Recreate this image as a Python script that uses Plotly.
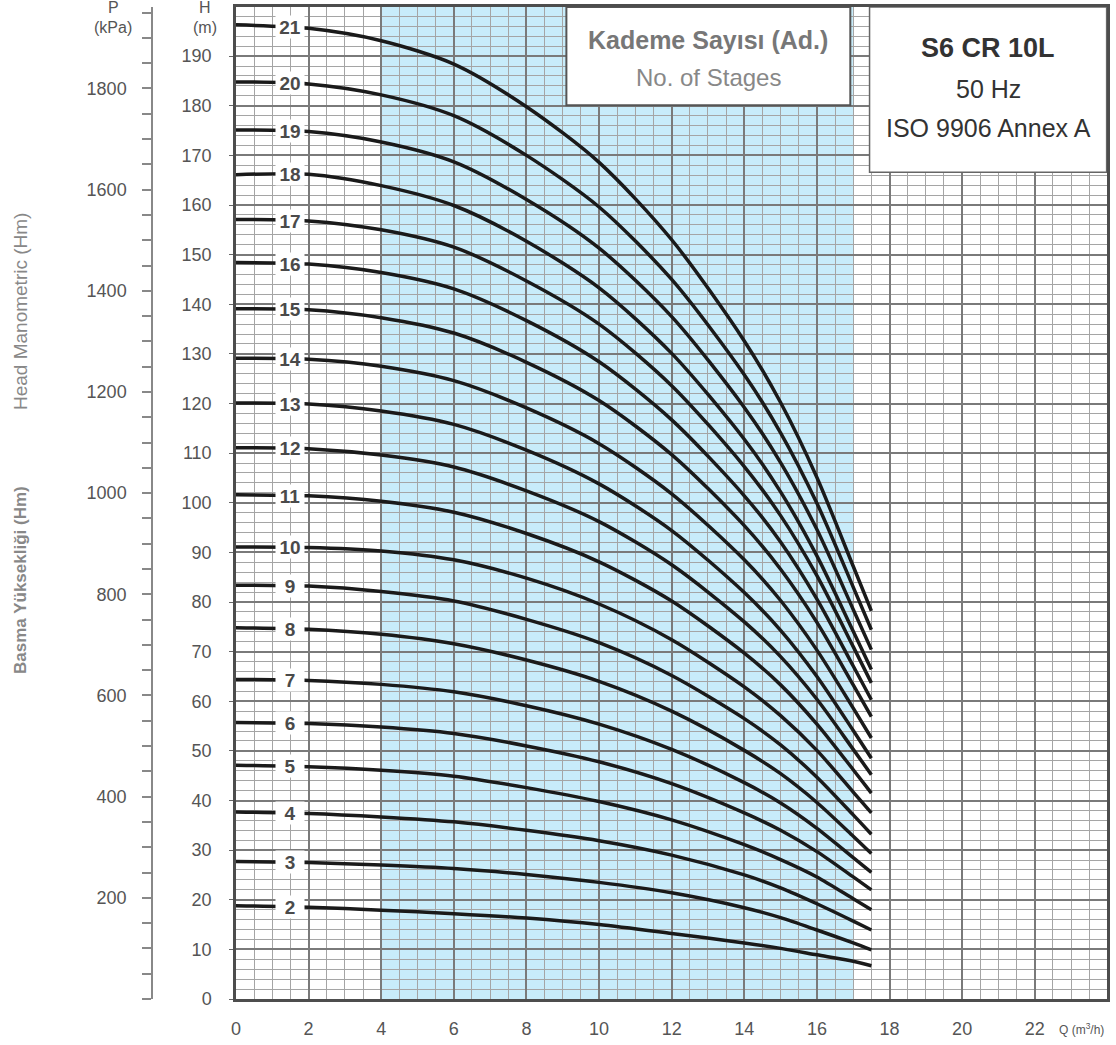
import numpy as np
import plotly.graph_objects as go

# ---------------- data ----------------
Q = [0, 2, 4, 6, 8, 10, 12, 14, 15, 16, 17, 17.5]

H2 = [18.8, 18.5, 17.9, 17.2, 16.3, 15.0, 13.2, 11.3, 10.2, 8.9, 7.6, 6.7]
H3 = [27.7, 27.5, 27.0, 26.3, 25.1, 23.5, 21.4, 18.4, 16.4, 13.9, 11.3, 9.9]
H4 = [37.7, 37.4, 36.7, 35.7, 34.0, 31.9, 29.0, 25.0, 22.4, 19.2, 15.7, 13.9]
H5 = [47.1, 46.8, 46.1, 44.9, 42.6, 39.8, 36.1, 31.1, 28.1, 24.6, 20.2, 18.0]
H6 = [55.7, 55.5, 54.8, 53.5, 51.0, 47.8, 43.4, 37.5, 34.0, 29.7, 24.6, 22.0]
H7 = [64.4, 64.2, 63.4, 61.9, 59.1, 55.4, 50.3, 43.6, 39.5, 34.4, 28.5, 25.5]
H8 = [74.8, 74.5, 73.5, 71.6, 68.3, 64.0, 58.0, 50.1, 45.4, 39.6, 32.8, 29.3]
H9 = [83.4, 83.2, 82.1, 80.2, 76.5, 71.8, 65.2, 56.5, 51.2, 44.7, 37.1, 33.2]
H10 = [91.1, 91.0, 90.3, 88.5, 84.8, 79.6, 72.4, 62.9, 57.1, 50.1, 41.7, 37.5]
H11 = [101.6, 101.4, 100.3, 98.1, 93.8, 88.1, 80.2, 69.7, 63.3, 55.4, 46.2, 41.5]
H12 = [111.1, 110.9, 109.6, 107.2, 102.4, 96.2, 87.5, 76.0, 69.0, 60.4, 50.3, 45.2]
H13 = [120.1, 119.9, 118.5, 115.8, 110.6, 103.8, 94.4, 81.9, 74.3, 65.0, 54.1, 48.5]
H14 = [129.1, 128.9, 127.5, 124.6, 119.1, 111.9, 101.8, 88.5, 80.3, 70.3, 58.6, 52.6]
H15 = [139.1, 138.9, 137.3, 134.2, 128.3, 120.6, 109.7, 95.4, 86.6, 75.9, 63.3, 56.9]
H16 = [148.4, 148.1, 146.4, 143.1, 136.7, 128.4, 116.7, 101.4, 92.1, 80.6, 67.1, 60.3]
H17 = [157.1, 156.8, 155.0, 151.5, 144.7, 136.0, 123.6, 107.3, 97.4, 85.3, 71.0, 63.7]
H18 = [166.1, 166.2, 163.9, 159.9, 152.7, 143.3, 130.1, 112.8, 102.2, 89.3, 74.1, 66.4]
H19 = [175.1, 174.8, 172.7, 168.7, 161.1, 151.3, 137.5, 119.2, 108.1, 94.6, 78.5, 70.4]
H20 = [184.8, 184.4, 182.2, 178.0, 170.0, 159.6, 145.0, 125.8, 114.1, 99.9, 83.0, 74.4]
H21 = [196.3, 195.6, 193.1, 188.4, 179.8, 168.6, 153.0, 132.6, 120.2, 105.1, 87.2, 78.2]

stages = [2, 3, 4, 5, 6, 7, 8, 9, 10, 11, 12, 13, 14, 15, 16, 17, 18, 19, 20, 21]
curves = [H2, H3, H4, H5, H6, H7, H8, H9, H10, H11, H12, H13, H14, H15, H16, H17, H18, H19, H20, H21]

x_ticks = [0, 2, 4, 6, 8, 10, 12, 14, 16, 18, 20, 22]
h_ticks = list(range(0, 200, 10))
p_ticks = [200, 400, 600, 800, 1000, 1200, 1400, 1600, 1800]

operating_range = [4, 17]
label_q = 1.5

# ---------------- layout constants ----------------
W, HGT = 1116, 1045
ML, MR, MT, MB = 0, 9, 7, 46
PW = W - ML - MR
PH = HGT - MT - MB
X0PX = 236
XMAX, YMAX = 23.99, 199.9
G = 9.81

FONT = "Liberation Sans, Arial, Helvetica, sans-serif"


def px_x(px):
    return (px - ML) / PW


def px_y(py):
    return (HGT - MB - py) / PH


fig = go.Figure()

for n, h in zip(stages, curves):
    fig.add_trace(go.Scatter(
        x=Q, y=h, mode="lines",
        line=dict(color="#1a1a1a", width=3.5, shape="spline", smoothing=0.8),
        hoverinfo="skip", showlegend=False))

# invisible trace carrying the P axis
fig.add_trace(go.Scatter(x=[0], y=[0], yaxis="y2", mode="markers",
                         marker=dict(opacity=0), showlegend=False, hoverinfo="skip"))

# operating range shading
fig.add_shape(type="rect", xref="x", yref="y", x0=operating_range[0], x1=operating_range[1],
              y0=0, y1=YMAX, fillcolor="rgb(200,236,250)", line=dict(width=0), layer="below")

# stage labels
for n, h in zip(stages, curves):
    yl = float(np.interp(label_q, Q, h))
    fig.add_annotation(x=label_q, y=yl, xref="x", yref="y", text=f"<b>{n}</b>",
                       xanchor="center", yanchor="middle",
                       showarrow=False, bgcolor="white", width=28, height=22, borderpad=0,
                       font=dict(family=FONT, size=19, color="#4a4a4a"))

# boxes
fig.add_shape(type="rect", xref="x", yref="y", x0=9.1, x1=16.92, y0=180.1, y1=199.9,
              fillcolor="white", line=dict(color="#555", width=2), layer="above")
fig.add_shape(type="rect", xref="x", yref="y", x0=17.45, x1=23.98, y0=166.6, y1=199.9,
              fillcolor="white", line=dict(color="#666", width=1.5), layer="above")

ann = [
    (708, 40, "<b>Kademe Sayısı (Ad.)</b>", 25, "#777"),
    (708, 77, "No. of Stages", 24, "#888"),
    (988, 48, "<b>S6 CR 10L</b>", 27, "#333"),
    (988, 89, "50 Hz", 25, "#333"),
    (988, 128, "ISO 9906 Annex A", 25, "#333"),
]
for px, py, t, s, c in ann:
    fig.add_annotation(x=px_x(px), y=px_y(py), xref="paper", yref="paper", text=t,
                       xanchor="center", yanchor="middle",
                       showarrow=False, font=dict(family=FONT, size=s, color=c))

# axis header labels
for px, py, t in [(113, 8, "P"), (113, 28, "(kPa)"), (205, 8, "H"), (205, 28, "(m)")]:
    fig.add_annotation(x=px_x(px), y=px_y(py), xref="paper", yref="paper", text=t,
                       xanchor="center", yanchor="middle",
                       showarrow=False, font=dict(family=FONT, size=16, color="#555"))

fig.add_annotation(x=px_x(1081), y=px_y(1029), xref="paper", yref="paper",
                   text="Q (m<sup>3</sup>/h)", showarrow=False,
                   xanchor="center", yanchor="middle",
                   font=dict(family=FONT, size=12, color="#555"))

fig.add_annotation(x=px_x(20), y=px_y(312), xref="paper", yref="paper",
                   text="Head Manometric (Hm)", textangle=-90, showarrow=False,
                   xanchor="center", yanchor="middle",
                   font=dict(family=FONT, size=19, color="#888"))
fig.add_annotation(x=px_x(20), y=px_y(580), xref="paper", yref="paper",
                   text="<b>Basma Yüksekliği (Hm)</b>", textangle=-90, showarrow=False,
                   xanchor="center", yanchor="middle",
                   font=dict(family=FONT, size=17, color="#888"))

fig.update_layout(
    width=W, height=HGT,
    margin=dict(l=ML, r=MR, t=MT, b=MB, autoexpand=False),
    paper_bgcolor="white", plot_bgcolor="white",
    showlegend=False,
    xaxis=dict(
        domain=[px_x(X0PX), 1], range=[0, XMAX],
        tickmode="array", tickvals=x_ticks,
        showgrid=True, gridcolor="#7a7a7a", gridwidth=1.5,
        minor=dict(dtick=0.5, tick0=0, showgrid=True, gridcolor="#a5a5a5", gridwidth=1),
        showline=True, linecolor="#4d4d4d", linewidth=2.5, mirror=True,
        ticks="", zeroline=False,
        tickfont=dict(family=FONT, size=18, color="#555"),
        ticklabelstandoff=12, automargin=False,
    ),
    yaxis=dict(
        range=[0, YMAX],
        tickmode="array", tickvals=h_ticks,
        showgrid=True, gridcolor="#7a7a7a", gridwidth=1.5,
        minor=dict(dtick=2, tick0=0, showgrid=True, gridcolor="#a5a5a5", gridwidth=1),
        showline=True, linecolor="#4d4d4d", linewidth=2.5, mirror=True,
        ticks="outside", ticklen=4, tickcolor="#666", zeroline=False,
        tickfont=dict(family=FONT, size=18, color="#555"),
        ticklabelstandoff=14, automargin=False,
    ),
    yaxis2=dict(
        overlaying="y", anchor="free", position=px_x(152), side="left",
        range=[0, YMAX * G],
        tickmode="array", tickvals=p_ticks,
        showgrid=False, zeroline=False,
        showline=True, linecolor="#888", linewidth=1.5,
        ticks="outside", ticklen=9, tickcolor="#888", tickwidth=1.5,
        minor=dict(dtick=50, tick0=0, ticks="outside", ticklen=9, tickcolor="#888", showgrid=False),
        tickfont=dict(family=FONT, size=18, color="#555"),
        ticklabelstandoff=12, automargin=False,
    ),
)

fig.write_html("out.html", config={"displayModeBar": False},
               post_script="document.body.style.margin='0';document.body.style.overflow='hidden';")
